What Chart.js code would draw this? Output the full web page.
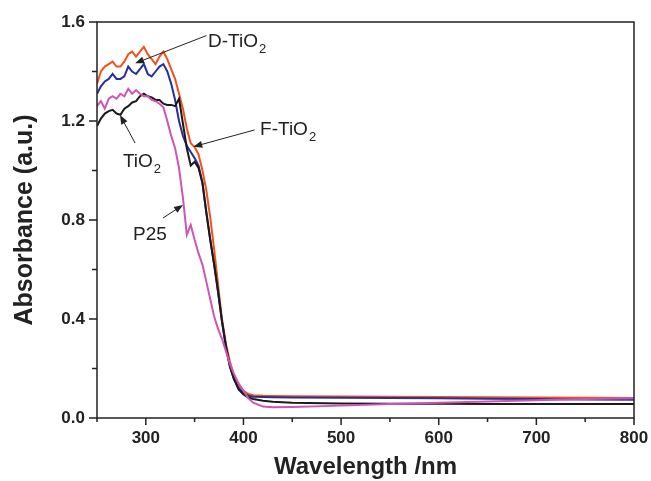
<!DOCTYPE html>
<html>
<head>
<meta charset="utf-8">
<script src="https://cdn.jsdelivr.net/npm/chart.js@4.4.1/dist/chart.umd.min.js"></script>
<style>
  html, body { margin: 0; padding: 0; background: #fff; }
  #wrap { width: 651px; height: 481px; }
</style>
</head>
<body>
<div id="wrap"><canvas id="absChart"></canvas></div>
<script>
// wavelength grid (nm) shared by all four spectra
const wavelengths = [250, 254, 258, 262, 266, 270, 274, 278, 282, 286, 290, 294, 298, 302, 306, 310, 314, 318, 322, 326,
  330, 334, 338, 342, 346, 350, 354, 358, 362, 366, 370, 374, 378, 382, 386, 390, 395, 400, 405, 410,
  420, 430, 450, 500, 550, 600, 650, 700, 750, 800];

const dTiO2 = [1.35, 1.40, 1.42, 1.43, 1.44, 1.42, 1.42, 1.44, 1.47, 1.48, 1.46, 1.48, 1.50, 1.47, 1.45, 1.43, 1.46, 1.48, 1.45, 1.41,
  1.37, 1.31, 1.25, 1.17, 1.11, 1.095, 1.065, 1.00, 0.92, 0.81, 0.68, 0.54, 0.40, 0.30, 0.23, 0.175, 0.13, 0.11, 0.097, 0.092,
  0.09, 0.089, 0.088, 0.087, 0.086, 0.085, 0.084, 0.083, 0.082, 0.081];

const fTiO2 = [1.31, 1.34, 1.36, 1.37, 1.39, 1.37, 1.37, 1.38, 1.42, 1.40, 1.39, 1.41, 1.43, 1.39, 1.38, 1.40, 1.42, 1.43, 1.40, 1.35,
  1.285, 1.20, 1.14, 1.10, 1.075, 1.05, 1.02, 0.95, 0.83, 0.72, 0.62, 0.51, 0.39, 0.29, 0.21, 0.16, 0.12, 0.10, 0.09, 0.086,
  0.085, 0.084, 0.083, 0.082, 0.081, 0.08, 0.078, 0.077, 0.075, 0.074];

const tiO2 = [1.18, 1.21, 1.23, 1.24, 1.245, 1.23, 1.225, 1.25, 1.26, 1.275, 1.28, 1.30, 1.31, 1.30, 1.295, 1.285, 1.285, 1.27, 1.265, 1.265,
  1.26, 1.29, 1.19, 1.09, 1.02, 1.035, 1.01, 0.95, 0.83, 0.72, 0.62, 0.51, 0.39, 0.29, 0.21, 0.16, 0.115, 0.095, 0.083, 0.077,
  0.07, 0.066, 0.062, 0.059, 0.058, 0.058, 0.057, 0.057, 0.057, 0.057];

const p25 = [1.26, 1.28, 1.25, 1.29, 1.30, 1.29, 1.31, 1.30, 1.33, 1.31, 1.325, 1.31, 1.30, 1.30, 1.285, 1.28, 1.27, 1.255, 1.20, 1.14,
  1.09, 1.01, 0.89, 0.74, 0.78, 0.72, 0.665, 0.62, 0.55, 0.48, 0.41, 0.36, 0.32, 0.27, 0.22, 0.18, 0.14, 0.11, 0.08, 0.062,
  0.046, 0.043, 0.044, 0.05, 0.057, 0.062, 0.067, 0.072, 0.077, 0.08];

const xTickValues = [300, 400, 500, 600, 700, 800];
const yTickValues = [0, 0.4, 0.8, 1.2, 1.6];

// labels with arrows, placed in data units (text baseline start, arrow tail, arrow tip)
const notes = [
  { text: 'D-TiO', sub: '2', at: [363.7, 1.499], from: [362, 1.545], to: [289, 1.433] },
  { text: 'F-TiO', sub: '2', at: [417, 1.143], from: [411.5, 1.164], to: [348.6, 1.096] },
  { text: 'TiO', sub: '2', at: [276.6, 1.014], from: [289, 1.111], to: [273.6, 1.224] },
  { text: 'P25', sub: '', at: [286.9, 0.719], from: [317.6, 0.808], to: [338.1, 0.861] }
];

const pts = arr => wavelengths.map((w, i) => ({ x: w, y: arr[i] }));
const line = (label, arr, color) => ({
  label, data: pts(arr), borderColor: color, borderWidth: 2,
  pointRadius: 0, tension: 0, fill: false
});

const frameAndNotes = {
  id: 'frameAndNotes',
  afterDraw(chart) {
    const { ctx, chartArea: a, scales: { x, y } } = chart;
    ctx.save();
    ctx.strokeStyle = '#222';
    ctx.lineWidth = 1.5;
    ctx.strokeRect(a.left, a.top, a.right - a.left, a.bottom - a.top);

    ctx.beginPath();
    xTickValues.forEach(v => {
      const px = x.getPixelForValue(v);
      ctx.moveTo(px, a.bottom); ctx.lineTo(px, a.bottom + 7);
      const mx = x.getPixelForValue(v - 50);
      ctx.moveTo(mx, a.bottom); ctx.lineTo(mx, a.bottom + 4);
    });
    yTickValues.forEach((v, i) => {
      const py = y.getPixelForValue(v);
      ctx.moveTo(a.left, py); ctx.lineTo(a.left - 8, py);
      if (i > 0) {
        const my = y.getPixelForValue(v - 0.2);
        ctx.moveTo(a.left, my); ctx.lineTo(a.left - 5, my);
      }
    });
    ctx.stroke();

    ctx.fillStyle = '#222';
    ctx.strokeStyle = '#222';
    ctx.lineWidth = 1;
    notes.forEach(n => {
      const x0 = x.getPixelForValue(n.from[0]), y0 = y.getPixelForValue(n.from[1]);
      const x1 = x.getPixelForValue(n.to[0]), y1 = y.getPixelForValue(n.to[1]);
      const ang = Math.atan2(y1 - y0, x1 - x0);
      const hl = 9, hw = 3.5;
      ctx.beginPath();
      ctx.moveTo(x0, y0);
      ctx.lineTo(x1 - Math.cos(ang) * hl * 0.8, y1 - Math.sin(ang) * hl * 0.8);
      ctx.stroke();
      ctx.beginPath();
      ctx.moveTo(x1, y1);
      ctx.lineTo(x1 - Math.cos(ang) * hl - Math.sin(ang) * hw, y1 - Math.sin(ang) * hl + Math.cos(ang) * hw);
      ctx.lineTo(x1 - Math.cos(ang) * hl + Math.sin(ang) * hw, y1 - Math.sin(ang) * hl - Math.cos(ang) * hw);
      ctx.closePath();
      ctx.fill();

      const tx = x.getPixelForValue(n.at[0]), ty = y.getPixelForValue(n.at[1]);
      ctx.textBaseline = 'alphabetic';
      ctx.textAlign = 'left';
      ctx.font = '19px "Liberation Sans", Arial, sans-serif';
      ctx.fillText(n.text, tx, ty);
      if (n.sub) {
        const w = ctx.measureText(n.text).width;
        ctx.font = '13px "Liberation Sans", Arial, sans-serif';
        ctx.fillText(n.sub, tx + w + 1, ty + 6);
      }
    });
    ctx.restore();
  }
};

const tickFont = { family: '"Liberation Sans", Arial, sans-serif', size: 17, weight: 'bold' };
const titleFont = { family: '"Liberation Sans", Arial, sans-serif', size: 24, weight: 'bold' };

new Chart(document.getElementById('absChart').getContext('2d'), {
  type: 'line',
  data: {
    datasets: [
      line('P25', p25, '#cf55b5'),
      line('TiO2', tiO2, '#1a1a1a'),
      line('F-TiO2', fTiO2, '#26309c'),
      line('D-TiO2', dTiO2, '#f4501c')
    ]
  },
  options: {
    responsive: true,
    maintainAspectRatio: false,
    animation: false,
    layout: { padding: { top: 22, right: 17, left: 0, bottom: 0 } },
    plugins: { legend: { display: false }, tooltip: { enabled: false } },
    scales: {
      x: {
        type: 'linear', min: 250, max: 800,
        grid: { display: false, drawTicks: false },
        border: { display: false },
        afterBuildTicks: s => { s.ticks = xTickValues.map(v => ({ value: v })); },
        afterFit: s => { s.height = 63; s.paddingLeft = 0; s.paddingRight = 0; },
        ticks: { font: tickFont, color: '#222', padding: 10, autoSkip: false, maxRotation: 0,
          callback: v => String(v) },
        title: { display: true, text: 'Wavelength /nm', font: titleFont, color: '#222', padding: { top: 0, bottom: -1 } }
      },
      y: {
        min: 0, max: 1.6,
        grid: { display: false, drawTicks: false },
        border: { display: false },
        afterBuildTicks: s => { s.ticks = yTickValues.map(v => ({ value: v })); },
        afterFit: s => { s.width = 97; s.paddingTop = 0; s.paddingBottom = 0; },
        ticks: { font: tickFont, color: '#222', padding: 12, callback: v => v.toFixed(1) },
        title: { display: true, text: 'Absorbance (a.u.)', font: { ...titleFont, size: 25 }, color: '#222', padding: { top: 10, bottom: 0 } }
      }
    }
  },
  plugins: [frameAndNotes]
});
</script>
</body>
</html>
